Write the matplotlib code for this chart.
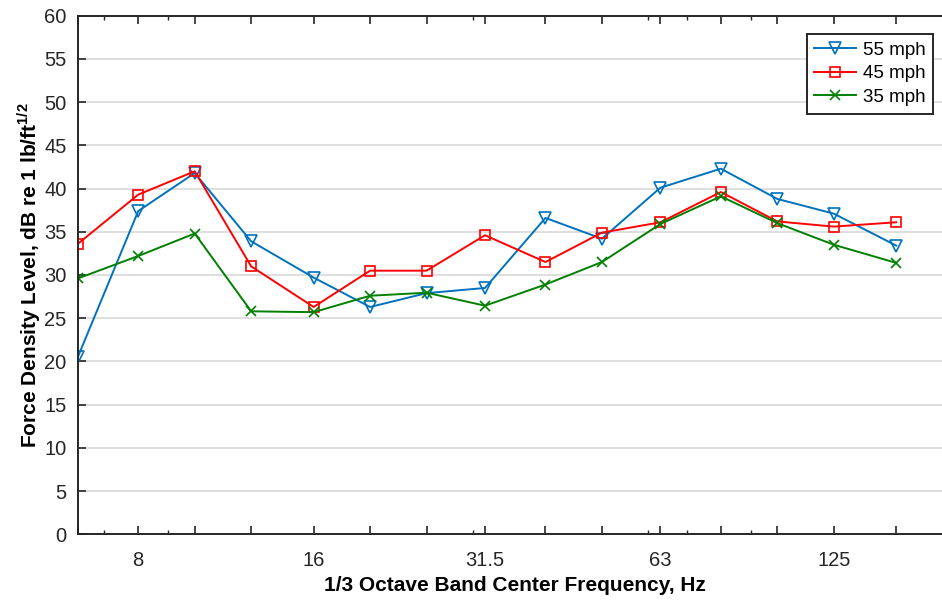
import numpy as np
import matplotlib
matplotlib.use("Agg")
import matplotlib.pyplot as plt
from matplotlib.ticker import FixedLocator, NullFormatter

plt.rcParams['font.family'] = ['Liberation Sans', 'DejaVu Sans']
plt.rcParams['mathtext.fontset'] = 'custom'
plt.rcParams['mathtext.rm'] = 'Liberation Sans'
plt.rcParams['mathtext.bf'] = 'Liberation Sans:bold'

# 1/3 octave band centre frequencies, Hz
freq = [6.3, 8, 10, 12.5, 16, 20, 25, 31.5, 40, 50, 63, 80, 100, 125, 160]
tick_labels = ['', '8', '', '', '16', '', '', '31.5', '', '', '63', '', '', '125', '']
minor_ticks = [7, 9, 30, 60, 70, 90]

mph55 = [20.5, 37.4, 41.8, 33.9, 29.7, 26.3, 27.9, 28.5, 36.6, 34.2, 40.1, 42.3, 38.8, 37.1, 33.4]
mph45 = [33.6, 39.3, 42.0, 31.0, 26.3, 30.5, 30.5, 34.6, 31.5, 34.9, 36.1, 39.6, 36.2, 35.6, 36.1]
mph35 = [29.6, 32.2, 34.8, 25.8, 25.7, 27.6, 27.95, 26.45, 28.9, 31.5, 35.9, 39.1, 36.0, 33.5, 31.4]

ax_col = '#262626'

fig = plt.figure(figsize=(9.42, 6), dpi=100)
ax = fig.add_axes([77.8 / 942, 65.7 / 600, 874.9 / 942, 518.6 / 600])

ax.plot(freq, mph55, color='#0072BD', marker='v', markersize=8.5, markerfacecolor='none',
        markeredgewidth=1.2, lw=1.4, label='55 mph')
ax.plot(freq, mph45, color='#FF0000', marker='s', markersize=7.5, markerfacecolor='none',
        markeredgewidth=1.2, lw=1.4, label='45 mph')
ax.plot(freq, mph35, color='#008000', marker='x', markersize=7.5,
        markeredgewidth=1.2, lw=1.4, label='35 mph')

ax.set_xscale('log')
ax.set_xlim(6.3, 200)
ax.set_ylim(0, 60)
ax.xaxis.set_major_locator(FixedLocator(freq))
ax.set_xticklabels(tick_labels)
ax.xaxis.set_minor_locator(FixedLocator(minor_ticks))
ax.xaxis.set_minor_formatter(NullFormatter())
ax.set_yticks(np.arange(0, 61, 5))

ax.tick_params(axis='both', which='major', direction='in', length=6, width=1.2,
               colors=ax_col, labelsize=14.5, top=True, right=True, pad=8)
ax.tick_params(axis='x', which='minor', direction='in', length=3, width=1.0,
               colors=ax_col, top=True)
ax.tick_params(axis='x', which='major', pad=12)
ax.grid(axis='y', which='major', color='#DFDFDF', lw=1.4)
ax.set_axisbelow(True)
for s in ax.spines.values():
    s.set_color(ax_col)
    s.set_linewidth(1.4)

ax.set_xlabel('1/3 Octave Band Center Frequency, Hz', fontsize=15, fontweight='bold', labelpad=4)
ax.set_ylabel(r'Force Density Level, dB re 1 lb/ft$^{\mathbf{1/2}}$', fontsize=15,
              fontweight='bold', labelpad=1)

leg = ax.legend(loc='upper right', bbox_to_anchor=(933 / 942, 1 - 34 / 600),
                bbox_transform=fig.transFigure, borderaxespad=0, fancybox=False,
                framealpha=1, edgecolor=ax_col, fontsize=13.5, handlelength=2.25,
                handletextpad=0.35, labelspacing=0.35, borderpad=0.4)
leg.get_frame().set_linewidth(1.4)

fig.savefig('out.png', dpi=100)
